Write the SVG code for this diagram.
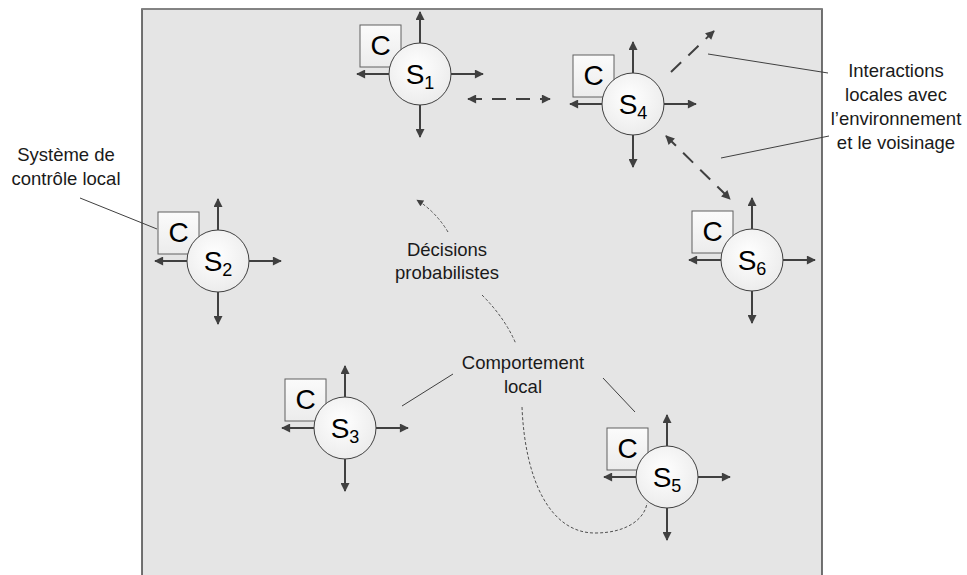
<svg xmlns="http://www.w3.org/2000/svg" width="967" height="575" viewBox="0 0 967 575">
<style>
.lbl{font-family:"Liberation Sans",Arial,sans-serif;font-size:18.5px;fill:#1a1a1a;text-anchor:middle}
.box{fill:url(#gBox);stroke:#606060;stroke-width:1}
.circ{fill:url(#gCirc);stroke:#404040;stroke-width:1}
.arr{stroke:#404040;stroke-width:2;fill:none;marker-end:url(#ah)}
.dash{stroke:#404040;stroke-width:2;fill:none;stroke-dasharray:14 10}
.dot{stroke:#505050;stroke-width:1;fill:none;stroke-dasharray:3 2}
.lead{stroke:#404040;stroke-width:1;fill:none}
.ct{font-family:"Liberation Sans",Arial,sans-serif;font-size:28px;fill:#000;text-anchor:middle}
</style>
<defs>
<linearGradient id="gBox" x1="0" y1="0" x2="0" y2="1"><stop offset="0" stop-color="#fbfbfb"/><stop offset="1" stop-color="#ececec"/></linearGradient>
<radialGradient id="gCirc" cx="0.45" cy="0.4" r="0.6"><stop offset="0" stop-color="#ffffff"/><stop offset="1" stop-color="#ececec"/></radialGradient>
<marker id="ah" viewBox="0 0 10 10" refX="9" refY="5" markerWidth="10" markerHeight="9" markerUnits="userSpaceOnUse" orient="auto-start-reverse"><path d="M0,0 L10,5 L0,10 z" fill="#404040"/></marker>
<marker id="ahs" viewBox="0 0 10 10" refX="9" refY="5" markerWidth="8" markerHeight="7" markerUnits="userSpaceOnUse" orient="auto"><path d="M0,0 L10,5 L0,10 z" fill="#404040"/></marker>
</defs>
<rect x="142" y="9" width="680" height="580" fill="#e5e5e5" stroke="#454545" stroke-width="1.5"/>
<line x1="142" y1="9" x2="822" y2="9" stroke="#8a8a8a" stroke-width="1.5"/>

<g id="connectors">
<path class="dash" d="M468,99 L550,99" marker-start="url(#ah)" marker-end="url(#ah)"/>
<path class="dash" d="M671,72 L714,31" marker-end="url(#ah)"/>
<path class="dash" d="M666,136 L730,199" marker-start="url(#ah)" marker-end="url(#ah)"/>
<path class="dot" d="M448,232 Q436,212 417,200" marker-end="url(#ahs)"/>
<path class="dot" d="M482,295 Q505,318 516,344"/>
<path class="dot" d="M522,407 C525,480 550,533 595,533 C628,533 645,518 647,503"/>
<path class="lead" d="M80,198 L157,229"/>
<path class="lead" d="M708,54 L828,73"/>
<path class="lead" d="M721,158 L829,136"/>
<path class="lead" d="M402,406 L453,374"/>
<path class="lead" d="M603,378 L635,412"/>
</g>

<g id="n1" transform="translate(420,74)">
<rect class="box" x="-60" y="-49" width="41" height="42"/>
<text class="ct" x="-39.5" y="-19">C</text>
<path class="arr" d="M0,-31 L0,-62"/><path class="arr" d="M31,0 L63,0"/><path class="arr" d="M0,31 L0,63"/><path class="arr" d="M-31,0 L-63,0"/>
<circle class="circ" r="31"/>
<text class="ct" x="0" y="10">S<tspan font-size="18" dy="5">1</tspan></text>
</g>
<g id="n2" transform="translate(218,261)">
<rect class="box" x="-60" y="-49" width="41" height="42"/>
<text class="ct" x="-39.5" y="-19">C</text>
<path class="arr" d="M0,-31 L0,-62"/><path class="arr" d="M31,0 L63,0"/><path class="arr" d="M0,31 L0,63"/><path class="arr" d="M-31,0 L-63,0"/>
<circle class="circ" r="31"/>
<text class="ct" x="0" y="10">S<tspan font-size="18" dy="5">2</tspan></text>
</g>
<g id="n3" transform="translate(345,428)">
<rect class="box" x="-60" y="-49" width="41" height="42"/>
<text class="ct" x="-39.5" y="-19">C</text>
<path class="arr" d="M0,-31 L0,-62"/><path class="arr" d="M31,0 L63,0"/><path class="arr" d="M0,31 L0,63"/><path class="arr" d="M-31,0 L-63,0"/>
<circle class="circ" r="31"/>
<text class="ct" x="0" y="10">S<tspan font-size="18" dy="5">3</tspan></text>
</g>
<g id="n4" transform="translate(633,104)">
<rect class="box" x="-60" y="-49" width="41" height="42"/>
<text class="ct" x="-39.5" y="-19">C</text>
<path class="arr" d="M0,-31 L0,-62"/><path class="arr" d="M31,0 L63,0"/><path class="arr" d="M0,31 L0,63"/><path class="arr" d="M-31,0 L-63,0"/>
<circle class="circ" r="31"/>
<text class="ct" x="0" y="10">S<tspan font-size="18" dy="5">4</tspan></text>
</g>
<g id="n5" transform="translate(667,477)">
<rect class="box" x="-60" y="-49" width="41" height="42"/>
<text class="ct" x="-39.5" y="-19">C</text>
<path class="arr" d="M0,-31 L0,-62"/><path class="arr" d="M31,0 L63,0"/><path class="arr" d="M0,31 L0,63"/><path class="arr" d="M-31,0 L-63,0"/>
<circle class="circ" r="31"/>
<text class="ct" x="0" y="10">S<tspan font-size="18" dy="5">5</tspan></text>
</g>
<g id="n6" transform="translate(752,260)">
<rect class="box" x="-60" y="-49" width="41" height="42"/>
<text class="ct" x="-39.5" y="-19">C</text>
<path class="arr" d="M0,-31 L0,-62"/><path class="arr" d="M31,0 L63,0"/><path class="arr" d="M0,31 L0,63"/><path class="arr" d="M-31,0 L-63,0"/>
<circle class="circ" r="31"/>
<text class="ct" x="0" y="10">S<tspan font-size="18" dy="5">6</tspan></text>
</g>

<g id="labels">
<text class="lbl" x="66" y="161">Système de</text>
<text class="lbl" x="66" y="185">contrôle local</text>
<text class="lbl" x="447" y="256">Décisions</text>
<text class="lbl" x="447" y="279">probabilistes</text>
<text class="lbl" x="523" y="369">Comportement</text>
<text class="lbl" x="523" y="393">local</text>
<text class="lbl" x="896" y="77">Interactions</text>
<text class="lbl" x="896" y="101">locales avec</text>
<text class="lbl" x="896" y="125">l’environnement</text>
<text class="lbl" x="896" y="149">et le voisinage</text>
</g>
</svg>
